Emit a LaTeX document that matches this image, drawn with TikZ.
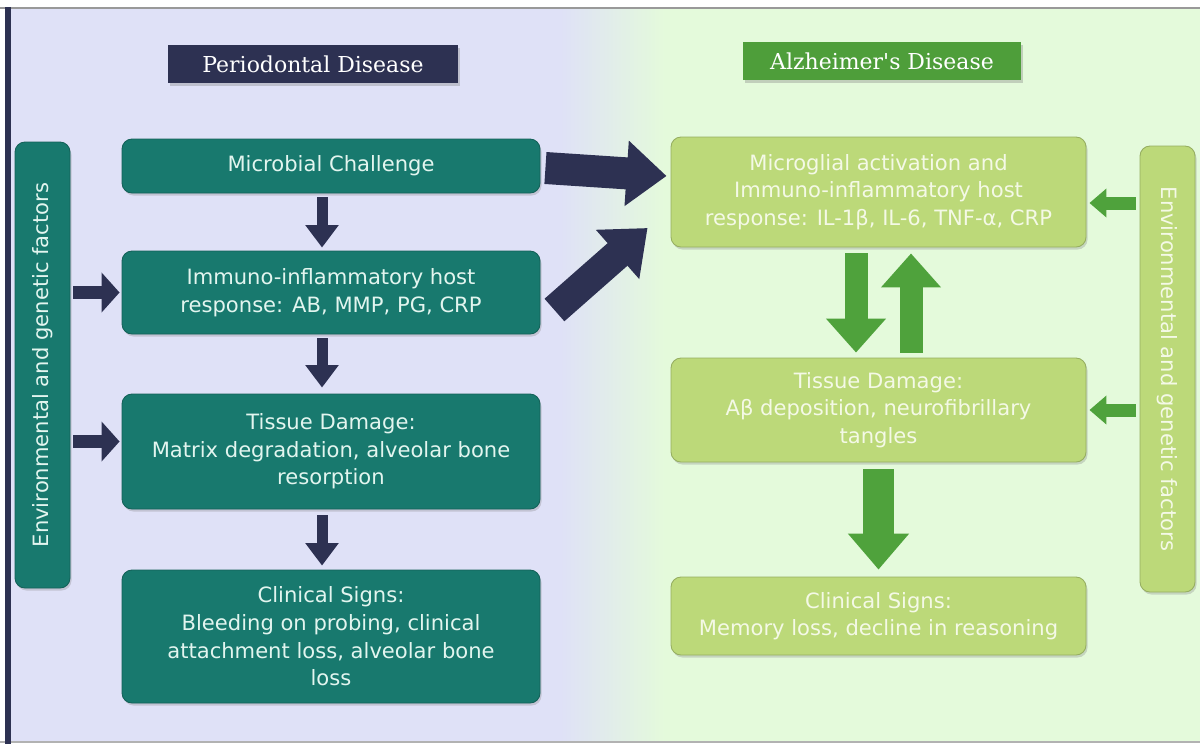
\documentclass[tikz,border=0pt]{standalone}
\usepackage{fontspec}
\usepackage{graphicx}
\setmainfont{DejaVu Sans}
\newfontfamily\titlefont{DejaVu Serif}
\usetikzlibrary{arrows.meta,shadows}

\definecolor{lavbg}{HTML}{DFE1F7}
\definecolor{grnbg}{HTML}{E4FADB}
\definecolor{navy}{HTML}{2D3152}
\definecolor{pdteal}{HTML}{18796E}
\definecolor{pdtext}{HTML}{E2F5EF}
\definecolor{adgreen}{HTML}{BCD979}
\definecolor{adtext}{HTML}{F4F9E6}
\definecolor{adarrow}{HTML}{4FA23C}
\definecolor{adtitle}{HTML}{4E9E3A}

\begin{document}
\begin{tikzpicture}[
    pdbox/.style={rectangle, rounded corners=0.2cm, fill=pdteal, draw=pdteal!80!black,
        line width=0.5pt, text=pdtext, align=center, inner sep=0pt,
        font=\fontsize{12}{15.7}\selectfont,
        drop shadow={opacity=0.3, shadow xshift=0.03cm, shadow yshift=-0.05cm}},
    adbox/.style={pdbox, fill=adgreen, draw=adgreen!80!black, text=adtext},
    titlebox/.style={rectangle, fill=navy, text=white, inner sep=0pt,
        minimum height=0.76cm, font=\titlefont\fontsize{12.5}{15}\selectfont,
        drop shadow={opacity=0.35, shadow xshift=0.03cm, shadow yshift=-0.05cm}},
    navyarrow/.style={line width=0.22cm, navy, -{Triangle[length=0.45cm,width=0.64cm]}},
    navyside/.style={line width=0.26cm, navy, -{Triangle[length=0.36cm,width=0.78cm]}},
    navyfat/.style={line width=0.64cm, navy, -{Triangle[length=0.8cm,width=1.26cm]}},
    grnside/.style={line width=0.26cm, adarrow, -{Triangle[length=0.34cm,width=0.56cm]}},
    grnfat/.style={line width=0.46cm, adarrow, -{Triangle[length=0.68cm,width=1.16cm]}},
    grnbig/.style={line width=0.62cm, adarrow, -{Triangle[length=0.72cm,width=1.18cm]}}
]

    % Fix the size of the picture
    \useasboundingbox (0,0) rectangle (24,-14.88);

    % Draw the background, lavender on the left and green on the right
    \fill[white] (0,0) rectangle (24,-14.88);
    \fill[lavbg] (0.1,-0.15) rectangle (11.2,-14.84);
    \shade[left color=lavbg, right color=grnbg] (11.2,-0.15) rectangle (13.3,-14.84);
    \fill[grnbg] (13.3,-0.15) rectangle (24,-14.84);

    % Draw the frame lines
    \draw[line width=0.04cm, black!40] (0,-0.15) -- (24,-0.15);
    \draw[line width=0.04cm, black!30] (0,-14.84) -- (24,-14.84);
    \fill[navy] (0.1,-0.14) rectangle (0.22,-14.88);

    % Titles of the two columns
    \node[titlebox, minimum width=5.8cm] (pdt) at (6.26,-1.28) {Periodontal Disease};
    \node[titlebox, minimum width=5.56cm, fill=adtitle] (adt) at (17.64,-1.22) {Alzheimer's Disease};

    % Periodontal disease column
    \node[pdbox, minimum width=8.36cm, minimum height=1.08cm] (mc) at (6.62,-3.32) {Microbial Challenge};
    \node[pdbox, minimum width=8.36cm, minimum height=1.66cm] (iih) at (6.62,-5.85)
        {Immuno-inflammatory host\\response: AB, MMP, PG, CRP};
    \node[pdbox, minimum width=8.36cm, minimum height=2.3cm] (td) at (6.62,-9.03)
        {Tissue Damage:\\Matrix degradation, alveolar bone\\resorption};
    \node[pdbox, minimum width=8.36cm, minimum height=2.66cm] (cs) at (6.62,-12.73)
        {Clinical Signs:\\Bleeding on probing, clinical\\attachment loss, alveolar bone\\loss};
    \node[pdbox, minimum width=1.1cm, minimum height=8.92cm] (envl) at (0.85,-7.3)
        {\rotatebox{90}{Environmental and genetic factors}};

    % Alzheimer's disease column
    \node[adbox, minimum width=8.3cm, minimum height=2.2cm] (ma) at (17.57,-3.84)
        {Microglial activation and\\Immuno-inflammatory host\\response: IL-1β, IL-6, TNF-α, CRP};
    \node[adbox, minimum width=8.3cm, minimum height=2.08cm] (tda) at (17.57,-8.2)
        {Tissue Damage:\\Aβ deposition, neurofibrillary\\tangles};
    \node[adbox, minimum width=8.3cm, minimum height=1.56cm] (csa) at (17.57,-12.32)
        {Clinical Signs:\\Memory loss, decline in reasoning};
    \node[adbox, minimum width=1.1cm, minimum height=8.92cm] (envr) at (23.35,-7.38)
        {\rotatebox{-90}{Environmental and genetic factors}};

    % Arrows down the periodontal column
    \draw[navyarrow, shorten <=0.08cm, shorten >=0.06cm] ([xshift=-0.18cm]mc.south) -- ([xshift=-0.18cm]iih.north);
    \draw[navyarrow, shorten <=0.08cm, shorten >=0.12cm] ([xshift=-0.18cm]iih.south) -- ([xshift=-0.18cm]td.north);
    \draw[navyarrow, shorten <=0.12cm, shorten >=0.08cm] ([xshift=-0.18cm]td.south) -- ([xshift=-0.18cm]cs.north);

    % Arrows from the left factors box
    \coordinate (tdin) at ([yshift=0.2cm]td.west);
    \draw[navyside, shorten <=0.06cm, shorten >=0.04cm] (envl.east |- iih.west) -- (iih.west);
    \draw[navyside, shorten <=0.06cm, shorten >=0.04cm] (envl.east |- tdin) -- (tdin);

    % Big arrows across to the Alzheimer's column
    \draw[navyfat] ([xshift=0.1cm,yshift=-0.04cm]mc.east) -- ([xshift=-0.08cm,yshift=0.32cm]ma.west);
    \draw[navyfat, line width=0.6cm] ([xshift=0.28cm,yshift=-0.35cm]iih.east) -- ([xshift=-0.46cm,yshift=-0.72cm]ma.west);

    % Arrows from the right factors box
    \coordinate (maside) at ([yshift=-0.22cm]ma.east);
    \draw[grnside, shorten <=0.08cm, shorten >=0.06cm] (envr.west |- maside) -- (maside);
    \draw[grnside, shorten <=0.08cm, shorten >=0.06cm] (envr.west |- tda.east) -- (tda.east);

    % Arrows in the Alzheimer's column
    \draw[grnfat, shorten <=0.12cm, shorten >=0.1cm] ([xshift=-0.45cm]ma.south) -- ([xshift=-0.45cm]tda.north);
    \draw[grnfat, shorten <=0.1cm, shorten >=0.12cm] ([xshift=0.65cm]tda.north) -- ([xshift=0.65cm]ma.south);
    \draw[grnbig, shorten <=0.14cm, shorten >=0.14cm] (tda.south) -- (csa.north);

\end{tikzpicture}
\end{document}
